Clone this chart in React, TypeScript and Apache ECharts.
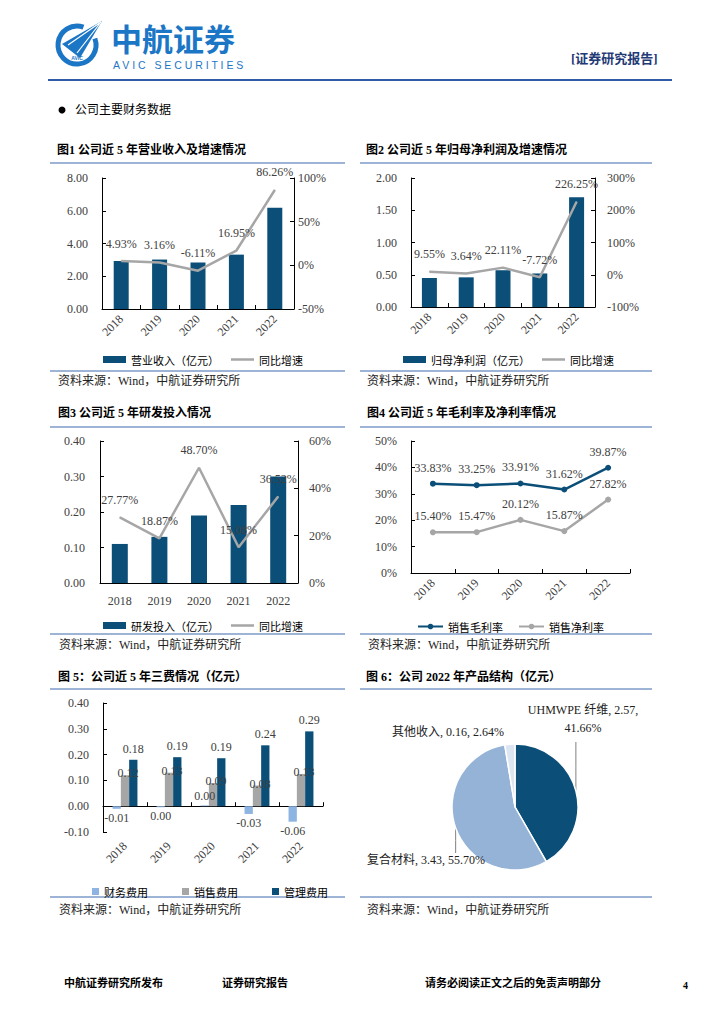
import React, { useEffect, useRef } from 'react';
import * as echarts from 'echarts';

const FONT = "'Liberation Serif', 'Noto Sans CJK SC', serif";
const CJK = "'Noto Sans CJK SC', 'Liberation Serif', sans-serif";

const years = ['2018', '2019', '2020', '2021', '2022'];
const revenue = [2.93, 3.02, 2.84, 3.32, 6.18];
const revenueYoY = [4.93, 3.16, -6.11, 16.95, 86.26];
const netProfit = [0.45, 0.46, 0.57, 0.52, 1.7];
const netProfitYoY = [9.55, 3.64, 22.11, -7.72, 226.25];
const rdSpend = [0.11, 0.13, 0.19, 0.22, 0.3];
const rdYoY = [27.77, 18.87, 48.7, 15.08, 36.52];
const grossMargin = [33.83, 33.25, 33.91, 31.62, 39.87];
const netMargin = [15.4, 15.47, 20.12, 15.87, 27.82];
const financeExp = [-0.01, -0.004, 0.003, -0.03, -0.06];
const sellingExp = [0.12, 0.13, 0.09, 0.08, 0.125];
const adminExp = [0.18, 0.19, 0.186, 0.236, 0.29];
const productNames = ['UHMWPE 纤维', '复合材料', '其他收入'];
const productValues = [2.57, 3.43, 0.16];
const productShares = [41.66, 55.7, 2.64];

const DARK = '#0B4F79';
const GRAY = '#A6A6A6';
const LIGHT = '#8DB4E2';
const PIE_COLORS = ['#0B4F79', '#95B3D7', '#DCE6F2'];
const BLUE = '#1C76C6';
const RULE = '#7E9BC8';
const LINE_ICON = 'path://M0,0L24,0L24,2.6L0,2.6Z';

const labelStyle = { color: '#404040', fontSize: 12, fontFamily: FONT };
const pct2 = (v: number) => v.toFixed(2) + '%';
const num2 = (v: number) => (Math.abs(v) < 0.005 ? '0.00' : v.toFixed(2));

function yAxis(gridIndex: number, position: string, min: number, max: number, interval: number, fmt: (v: number) => string, margin = 14) {
  return {
    type: 'value', gridIndex, position, min, max, interval,
    axisLine: { show: true, onZero: false, lineStyle: { color: '#000', width: 1 } },
    axisTick: { show: true, inside: true, length: 4, lineStyle: { color: '#000' } },
    axisLabel: { formatter: fmt, margin, ...labelStyle },
    splitLine: { show: false },
  };
}

function xAxis(gridIndex: number, rotate: number, ticks: boolean, margin: number, extra: any = {}) {
  return {
    type: 'category', gridIndex, data: years,
    axisLine: { show: true, onZero: false, lineStyle: { color: '#000', width: 1 } },
    axisTick: { show: ticks, inside: true, length: 4, interval: 0, lineStyle: { color: '#000' } },
    axisLabel: { rotate, margin, interval: 0, ...labelStyle },
    splitLine: { show: false },
    ...extra,
  };
}

function yoyLine(name: string, xi: number, yi: number, data: number[]) {
  return {
    type: 'line', name, xAxisIndex: xi, yAxisIndex: yi, data,
    symbol: 'circle', symbolSize: 1, showSymbol: true,
    lineStyle: { color: GRAY, width: 2.5 }, itemStyle: { color: GRAY },
    label: { show: true, position: 'top', distance: 11, formatter: (p: any) => pct2(p.value), ...labelStyle },
    z: 3,
  };
}

function barSeries(name: string, xi: number, yi: number, data: number[], color: string, width: number) {
  return {
    type: 'bar', name, xAxisIndex: xi, yAxisIndex: yi, data,
    barWidth: width, itemStyle: { color },
  };
}

const legendBase = {
  orient: 'horizontal', itemWidth: 23, itemHeight: 7, itemGap: 12, selectedMode: false, padding: 0,
  textStyle: { fontSize: 11, color: '#000', fontFamily: CJK },
};

function txt(x: number, y: number, text: string, extra: any = {}) {
  return {
    type: 'text', x, y,
    style: { text, fontSize: 12, fontFamily: FONT, fill: '#000', align: 'left', verticalAlign: 'middle', ...extra },
  };
}
function hline(x1: number, x2: number, y: number, stroke = RULE, lineWidth = 1.5) {
  return { type: 'line', shape: { x1, y1: y, x2, y2: y }, style: { stroke, lineWidth } };
}

function buildGraphics() {
  const g: any[] = [];
  // logo
  g.push({ type: 'arc', shape: { cx: 77, cy: 45, r: 19, startAngle: -0.35, endAngle: 5.06, clockwise: true }, style: { stroke: BLUE, lineWidth: 5, fill: 'none' } });
  g.push({ type: 'polygon', shape: { points: [[62, 44], [102, 21], [80, 58]] }, style: { fill: BLUE } });
  g.push({ type: 'polyline', shape: { points: [[68, 45], [101, 22], [77, 53]] }, style: { stroke: '#fff', lineWidth: 1.2, fill: 'none' } });
  g.push(txt(77, 58, 'AVIC', { fontSize: 5, fontWeight: 'bold', fill: BLUE, align: 'center', fontFamily: 'Liberation Sans' }));
  g.push(txt(111, 37, '中航证券', { fontSize: 31, fontWeight: 'bold', fill: BLUE, fontFamily: CJK, lineHeight: 31 }));
  g.push(txt(113, 65, 'A V I C   S E C U R I T I E S', { fontSize: 10.5, fill: BLUE, fontFamily: 'Liberation Sans', lineHeight: 10 }));
  g.push(txt(571, 58, '[证券研究报告]', { fontSize: 13, fontWeight: 'bold', fill: '#1F3A75' }));
  g.push(hline(48, 672, 80, '#2E5AA8', 2));
  g.push({ type: 'circle', shape: { cx: 62, cy: 110, r: 3.5 }, style: { fill: '#000' } });
  g.push(txt(75, 110, '公司主要财务数据', { fontSize: 12 }));

  const blocks = [
    { x: 50, x2: 345, tx: 57, ty: 150, u: 163, b: 371, s: 381, t: '图1 公司近 5 年营业收入及增速情况' },
    { x: 360, x2: 652, tx: 366, ty: 150, u: 163, b: 371, s: 381, t: '图2 公司近 5 年归母净利润及增速情况' },
    { x: 50, x2: 345, tx: 58, ty: 413, u: 427, b: 634, s: 645, t: '图3 公司近 5 年研发投入情况' },
    { x: 360, x2: 652, tx: 367, ty: 413, u: 427, b: 634, s: 645, t: '图4 公司近 5 年毛利率及净利率情况' },
    { x: 50, x2: 345, tx: 58, ty: 677, u: 689, b: 897, s: 910, t: '图 5：公司近 5 年三费情况（亿元）' },
    { x: 360, x2: 652, tx: 366, ty: 677, u: 689, b: 897, s: 910, t: '图 6：公司 2022 年产品结构（亿元）' },
  ];
  blocks.forEach((bk) => {
    g.push(txt(bk.tx, bk.ty, bk.t, { fontWeight: 'bold' }));
    g.push(hline(bk.x, bk.x2, bk.u));
    g.push(hline(bk.x, bk.x2, bk.b));
    g.push(txt(bk.tx + 1, bk.s, '资料来源：Wind，中航证券研究所', { fontSize: 12, fill: '#222' }));
  });

  g.push(txt(64, 983, '中航证券研究所发布', { fontSize: 11, fontWeight: 'bold' }));
  g.push(txt(222, 983, '证券研究报告', { fontSize: 11, fontWeight: 'bold' }));
  g.push(txt(425, 983, '请务必阅读正文之后的免责声明部分', { fontSize: 11, fontWeight: 'bold' }));
  g.push(txt(683, 985, '4', { fontSize: 10, fontWeight: 'bold' }));
  return g;
}

const PIE_CX = 515;
const PIE_CY = 807;
const PIE_R = 63;

function pieAnchor(i: number) {
  const total = productValues.reduce((a, b) => a + b, 0);
  let acc = 0;
  for (let k = 0; k < i; k++) acc += productValues[k];
  const mid = ((acc + productValues[i] / 2) / total) * Math.PI * 2;
  return [PIE_CX + PIE_R * Math.sin(mid), PIE_CY - PIE_R * Math.cos(mid)];
}

function buildOption() {
  return {
    animation: false,
    textStyle: { fontFamily: FONT },
    grid: [
      { left: 102, top: 178, width: 192, height: 131 },
      { left: 411, top: 178, width: 184, height: 129 },
      { left: 100, top: 441, width: 198, height: 142 },
      { left: 411, top: 441, width: 219, height: 132 },
      { left: 103, top: 703, width: 220, height: 129 },
    ],
    xAxis: [
      xAxis(0, 45, true, 8),
      xAxis(1, 45, true, 8),
      xAxis(2, 0, false, 12),
      xAxis(3, 45, true, 8),
      xAxis(4, 45, false, 12, { axisLine: { show: false, onZero: false } }),
      xAxis(4, 0, true, 8, {
        position: 'bottom',
        axisLine: { show: true, onZero: true, lineStyle: { color: '#000', width: 1 } },
        axisLabel: { show: false },
      }),
    ],
    yAxis: [
      yAxis(0, 'left', 0, 8, 2, (v) => v.toFixed(2)),
      yAxis(0, 'right', -50, 100, 50, (v) => v + '%', 4),
      yAxis(1, 'left', 0, 2, 0.5, (v) => v.toFixed(2)),
      yAxis(1, 'right', -100, 300, 100, (v) => v + '%', 12),
      yAxis(2, 'left', 0, 0.4, 0.1, (v) => v.toFixed(2), 15),
      yAxis(2, 'right', 0, 60, 20, (v) => v + '%', 11),
      yAxis(3, 'left', 0, 50, 10, (v) => v + '%'),
      yAxis(4, 'left', -0.1, 0.4, 0.1, (v) => v.toFixed(2)),
    ],
    legend: [
      { ...legendBase, left: 103, top: 354, data: [{ name: '营业收入（亿元）', icon: 'rect' }, { name: '同比增速', icon: LINE_ICON }] },
      { ...legendBase, left: 403, top: 354, data: [{ name: '归母净利润（亿元）', icon: 'rect' }, { name: '同比增速', icon: LINE_ICON }] },
      { ...legendBase, left: 103, top: 620, data: [{ name: '研发投入（亿元）', icon: 'rect' }, { name: '同比增速', icon: LINE_ICON }] },
      { ...legendBase, left: 417, top: 621, itemWidth: 25, itemGap: 15, data: ['销售毛利率', '销售净利率'] },
      { ...legendBase, left: 92, top: 886, itemWidth: 7, itemHeight: 7, itemGap: 34, data: [{ name: '财务费用', icon: 'rect' }, { name: '销售费用', icon: 'rect' }, { name: '管理费用', icon: 'rect' }] },
    ],
    series: [
      barSeries('营业收入（亿元）', 0, 0, revenue, DARK, 15),
      yoyLine('同比增速', 0, 1, revenueYoY),
      barSeries('归母净利润（亿元）', 1, 2, netProfit, DARK, 15),
      yoyLine('同比增速', 1, 3, netProfitYoY),
      barSeries('研发投入（亿元）', 2, 4, rdSpend, DARK, 16),
      yoyLine('同比增速', 2, 5, rdYoY),
      {
        type: 'line', name: '销售毛利率', xAxisIndex: 3, yAxisIndex: 6, data: grossMargin,
        symbol: 'circle', symbolSize: 6, lineStyle: { color: DARK, width: 2.5 }, itemStyle: { color: DARK },
        label: { show: true, position: 'top', distance: 7, formatter: (p: any) => pct2(p.value), ...labelStyle },
      },
      {
        type: 'line', name: '销售净利率', xAxisIndex: 3, yAxisIndex: 6, data: netMargin,
        symbol: 'circle', symbolSize: 6, lineStyle: { color: GRAY, width: 2.5 }, itemStyle: { color: GRAY },
        label: { show: true, position: 'top', distance: 7, formatter: (p: any) => pct2(p.value), ...labelStyle },
      },
      {
        type: 'bar', name: '财务费用', xAxisIndex: 4, yAxisIndex: 7, barWidth: 8.3, barGap: '0%',
        itemStyle: { color: LIGHT },
        data: financeExp.map((v) => ({ value: v, label: { position: v < 0 ? 'bottom' : 'top' } })),
        label: { show: true, distance: 3, formatter: (p: any) => num2(p.value), ...labelStyle },
      },
      {
        type: 'bar', name: '销售费用', xAxisIndex: 4, yAxisIndex: 7, barWidth: 8.3, barGap: '0%',
        itemStyle: { color: GRAY }, data: sellingExp,
        label: { show: true, position: 'top', distance: 0, offset: [3, 4], formatter: (p: any) => num2(p.value), ...labelStyle },
      },
      {
        type: 'bar', name: '管理费用', xAxisIndex: 4, yAxisIndex: 7, barWidth: 8.3, barGap: '0%',
        itemStyle: { color: DARK }, data: adminExp,
        label: { show: true, position: 'top', distance: 5, formatter: (p: any) => num2(p.value), ...labelStyle },
      },
      {
        type: 'pie', center: [PIE_CX, PIE_CY], radius: PIE_R, startAngle: 90, clockwise: true,
        itemStyle: { borderColor: '#fff', borderWidth: 1.5 },
        data: productNames.map((n, i) => ({
          name: n, value: productValues[i], itemStyle: { color: PIE_COLORS[i] },
          labelLine: { show: i !== 2 },
        })),
        label: {
          show: true, ...labelStyle, color: '#222', lineHeight: 18, width: 160, overflow: 'none', align: 'center',
          formatter: (p: any) => {
            const i = p.dataIndex;
            const v = productValues[i].toFixed(2);
            const s = productShares[i].toFixed(2) + '%';
            return i === 0 ? `${p.name}, ${v},\n${s}` : `${p.name}, ${v}, ${s}`;
          },
        },
        labelLine: { show: true, lineStyle: { color: '#808080', width: 1 } },
        labelLayout: (params: any) => {
          const i = params.dataIndex;
          const a = pieAnchor(i);
          if (i === 0) {
            return { x: 583, y: 719, align: 'center', verticalAlign: 'middle', labelLinePoints: [[a[0], a[1]], [a[0], (a[1] + 742) / 2], [a[0], 742]] };
          }
          if (i === 1) {
            return { x: 426, y: 860, align: 'center', verticalAlign: 'middle', labelLinePoints: [[a[0], a[1]], [a[0], (a[1] + 853) / 2], [a[0], 853]] };
          }
          return { x: 448, y: 732, align: 'center', verticalAlign: 'middle' };
        },
      },
    ],
    graphic: buildGraphics(),
  };
}

export default function App() {
  const ref = useRef<HTMLDivElement>(null);
  useEffect(() => {
    document.body.style.margin = '0';
    const chart = echarts.init(ref.current as HTMLDivElement, null, { renderer: 'svg' });
    chart.setOption(buildOption() as any);
    return () => chart.dispose();
  }, []);
  return <div ref={ref} style={{ width: 724, height: 1024, background: '#fff' }} />;
}
